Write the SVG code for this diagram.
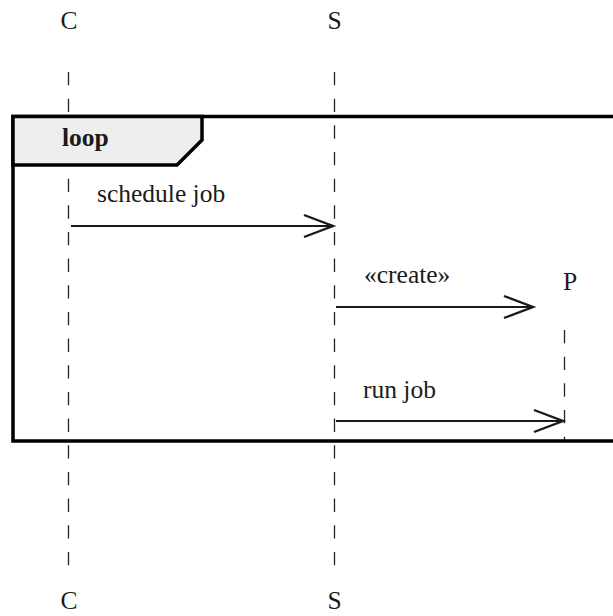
<svg xmlns="http://www.w3.org/2000/svg" width="613" height="616" viewBox="0 0 613 616">
<style>
text{font-family:"Liberation Serif","Times New Roman",serif;font-size:25.5px;fill:#1a1a1a}
.life{stroke:#222;stroke-width:1.3;stroke-dasharray:13.33 13.33;fill:none}
.msg{stroke:#1a1a1a;stroke-width:2.2;fill:none}
.head{stroke:#1a1a1a;stroke-width:2.4;fill:none;stroke-linejoin:miter}
.frame{stroke:#000;stroke-width:3.5;fill:none}
</style>
<rect width="613" height="616" fill="#fff"/>
<g id="lifelines">
<line class="life" x1="68.5" y1="72" x2="68.5" y2="566"/>
<line class="life" x1="334.5" y1="72" x2="334.5" y2="566"/>
<line class="life" x1="564.5" y1="330" x2="564.5" y2="441"/>
</g>
<g id="frame-loop">
<rect class="frame" x="13" y="116.5" width="620" height="324.5"/>
<polygon points="13,116.5 202,116.5 202,140 177,165 13,165" fill="#eeeeee" stroke="#000" stroke-width="3.5"/>
<text x="62" y="146" font-weight="bold">loop</text>
</g>
<g id="node-C">
<text x="69" y="29" text-anchor="middle">C</text>
<text x="69" y="609" text-anchor="middle">C</text>
</g>
<g id="node-S">
<text x="334.5" y="29" text-anchor="middle">S</text>
<text x="334.5" y="609" text-anchor="middle">S</text>
</g>
<g id="node-P">
<text x="570" y="290" text-anchor="middle">P</text>
</g>
<g id="connectors">
<line class="msg" x1="71" y1="226" x2="332" y2="226"/>
<polyline class="head" points="304,215 333,226 304,237"/>
<text x="97" y="202">schedule job</text>
<line class="msg" x1="336" y1="307" x2="532" y2="307"/>
<polyline class="head" points="504,296 533,307 504,318"/>
<text x="364" y="283">«create»</text>
<line class="msg" x1="336" y1="421" x2="562" y2="421"/>
<polyline class="head" points="534,410 563,421 534,432"/>
<text x="363" y="398">run job</text>
</g>
</svg>
